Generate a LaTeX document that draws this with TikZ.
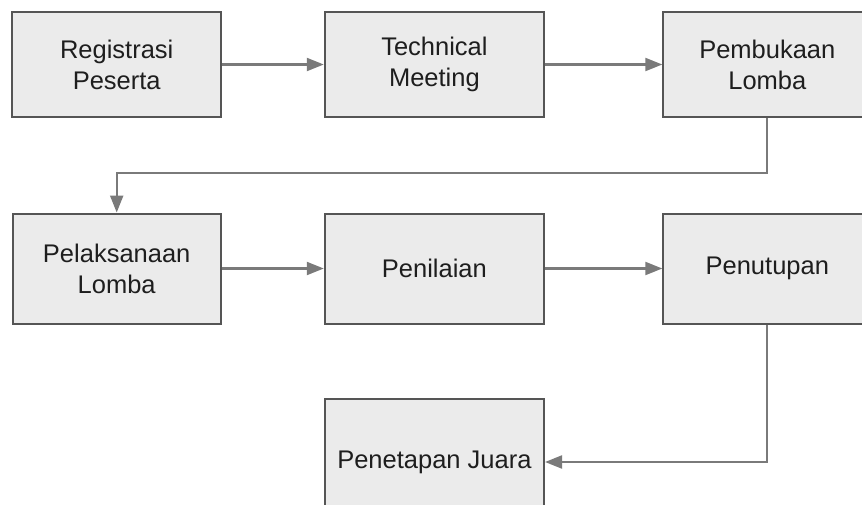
\documentclass[tikz,border=0pt]{standalone}
\usepackage{fontspec}
\setmainfont{Liberation Sans}
\usetikzlibrary{arrows.meta}
\definecolor{boxfill}{HTML}{EBEBEB}
\definecolor{boxline}{HTML}{555555}
\definecolor{conn}{HTML}{7A7A7A}
\definecolor{txt}{HTML}{1E1E1E}
\tikzset{
  stepbox/.style={draw=boxline, line width=2pt, fill=boxfill, rectangle, inner sep=0pt,
    align=center, text=txt, font=\fontsize{25.5}{31}\selectfont},
  arr/.style={draw=conn, line width=2.2pt, -{Triangle[length=17pt,width=13pt]}},
}
\begin{document}
\begin{tikzpicture}[x=1pt,y=-1pt]
\useasboundingbox (0,0) rectangle (862,504);
\clip (0,0) rectangle (862,504);
\node[stepbox, minimum width=208.7pt, minimum height=104.4pt] (b1) at (116.7,64.5) {Registrasi\\Peserta};
\node[stepbox, minimum width=219.3pt, minimum height=104.4pt] (b2) at (434.4,64.5) {Technical\\Meeting};
\node[stepbox, minimum width=208pt, minimum height=104.4pt] (b3) at (767.3,64.5) {Pembukaan\\Lomba};
\node[stepbox, minimum width=208.4pt, minimum height=110pt] (b4) at (116.7,268.5) {Pelaksanaan\\Lomba};
\node[stepbox, minimum width=219.3pt, minimum height=110pt] (b5) at (434.4,268.5) {Penilaian};
\node[stepbox, minimum width=208pt, minimum height=110pt] (b6) at (767.3,268.5) {Penutupan};
\node[stepbox, minimum width=219.3pt, minimum height=126pt] (b7) at (434.4,462) {Penetapan Juara};
\coordinate (k1) at (0,173);
\draw[arr] (b1) -- (b2);
\draw[arr] (b2) -- (b3);
\draw[arr] (b3.south) -- (b3.south |- k1) -| (b4.north);
\draw[arr] (b4) -- (b5);
\draw[arr] (b5) -- (b6);
\draw[arr] (b6.south) |- (b7.east);
\end{tikzpicture}
\end{document}
